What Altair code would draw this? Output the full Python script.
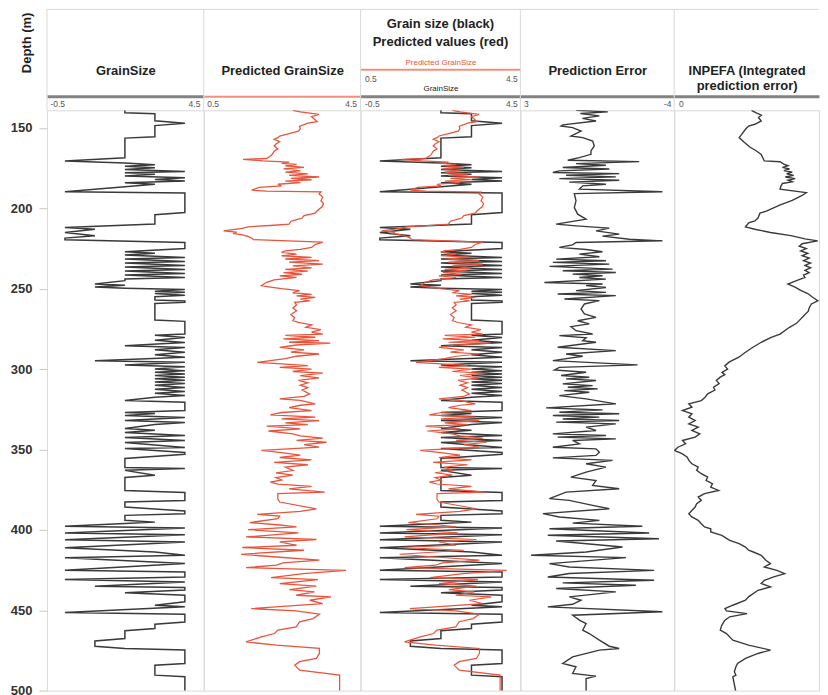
import altair as alt
import pandas as pd

FONT = "Liberation Sans"
DEPTH_TICKS = [150, 200, 250, 300, 350, 400, 450, 500]
GS_TICKS = [-0.5, 4.5]
PRED_TICKS = [0.5, 4.5]
ERR_TICKS = [3, -4]
INP_TICKS = [0]

# (depth m, grain size class)
GS_POINTS = [
    (139, 2), (140.5, 2), (141.2, 3), (145.5, 3), (147, 4), (148.5, 3), (155.5, 3), (156.3, 2), (168.5, 2),
    (170.5, 0), (171.8, 2), (172.8, 3), (173.8, 2), (174.8, 3), (175.8, 2), (177, 4), (177.8, 2), (178.8, 3),
    (179.8, 2), (181, 4), (182, 3), (183, 4), (184, 2), (185, 3), (186.5, 2), (189.7, 0), (190.5, 4),
    (202.6, 4), (204, 3), (209.8, 3), (211.9, 0), (213, 1), (215, 0), (217, 1), (218.5, 0), (219.5, 0),
    (221.2, 4), (225, 4), (227, 2), (228, 3), (229, 2), (230.5, 4), (231.5, 2), (233, 4), (234, 2),
    (235.5, 4), (236.5, 2), (238, 4), (239, 2), (240.5, 4), (241.5, 2), (243, 4), (244, 2), (245, 2),
    (247, 1), (247.8, 2), (249, 1), (249.7, 2), (250.5, 4), (251.5, 3), (252.2, 4), (253, 3), (254, 4),
    (255, 3), (257, 3), (257.6, 4), (258.5, 4), (259.2, 3), (269.5, 3), (270.3, 4), (278.2, 4), (279, 3),
    (280.3, 4), (282, 3), (283.5, 4), (285.5, 2), (286.5, 4), (288, 3), (289.5, 4), (291, 3), (292.6, 4),
    (294.8, 1), (295.8, 4), (297.5, 2), (298.5, 4), (300, 3), (301, 4), (302, 3), (303, 4), (304, 3),
    (305, 4), (306, 3), (307, 4), (308, 3), (309, 4), (310, 3), (311.5, 4), (312.5, 3), (314, 4), (315, 3),
    (316.5, 4), (317.5, 3), (319.6, 2), (320.6, 4), (325.8, 4), (327, 2), (327.7, 3), (328.9, 2),
    (330.1, 4), (332, 2), (333.2, 4), (334.5, 3), (336.9, 2), (338.1, 3), (339.5, 2), (341.3, 4),
    (342.5, 2), (344.4, 4), (345.7, 2), (348.8, 4), (349.4, 2), (351.9, 4), (353, 4), (355.6, 2),
    (361.2, 2), (361.8, 4), (363, 2), (366.1, 3), (367.4, 2), (375.5, 2), (376.7, 4), (381.7, 4),
    (382.7, 2), (385.8, 2), (388.3, 4), (390, 4), (391, 2), (394.1, 2), (395.2, 3), (396, 2), (397.8, 0),
    (398.9, 4), (402, 0), (403, 4), (406.1, 0), (407.6, 4), (411.1, 0), (413.8, 3), (415.8, 4), (417.3, 0),
    (421, 4), (425.2, 0), (426.2, 4), (429.3, 4), (430.9, 0), (432.4, 4), (435.1, 1), (435.9, 4),
    (437.5, 4), (439.2, 2), (440.7, 4), (444.8, 4), (446.9, 3), (447.9, 4), (451.4, 0), (452.5, 4),
    (457.3, 4), (458.7, 3), (461.4, 3), (462.8, 2), (467.6, 2), (469.1, 1), (472.4, 1), (473.8, 2),
    (474.8, 4), (483.1, 4), (484.2, 3), (490.4, 3), (491.4, 4), (501, 4),
]

# (depth m, predicted grain size)
PRED_POINTS = [
    (139, 2.8), (140, 3.0), (141.5, 3.5), (143, 3.3), (145, 3.4), (146, 3.45), (147, 3.2), (149, 2.98),
    (150.5, 3.0), (152, 2.95), (153.5, 2.7), (155, 2.45), (156, 2.4), (157, 2.3), (158.5, 2.45), (160, 2.35),
    (161.2, 2.3), (163, 2.4), (164.5, 2.3), (166.4, 2.25), (167.5, 2.2), (169, 2.1), (169.5, 1.47),
    (170.5, 2.0), (171.2, 2.7), (172, 2.5), (172.6, 2.9), (173.5, 2.6), (174.5, 3.1), (175.5, 2.55),
    (176.7, 3.0), (177.5, 2.6), (178.5, 3.2), (179.5, 2.7), (180.5, 3.5), (181.3, 2.75), (182.2, 3.3),
    (183, 2.6), (184, 3.0), (185, 2.4), (186, 2.5), (187, 1.9), (188.7, 1.7), (189.3, 2.1), (189.8, 3.55),
    (191, 3.5), (193, 3.6), (195.3, 3.55), (197, 3.62), (199, 3.58), (201.5, 3.45), (203, 3.4),
    (204.5, 3.1), (206, 3.05), (206.7, 2.95), (208, 2.75), (209.8, 2.7), (210.5, 2.3), (211.5, 1.6),
    (212.5, 1.45), (213.5, 1.1), (214, 0.95), (214.8, 1.3), (215.5, 1.2), (216.5, 1.45), (217.5, 1.6),
    (218.5, 1.7), (219.5, 1.75), (221, 3.6), (222.5, 3.4), (224.3, 3.3), (225.5, 3.0), (226.5, 2.6),
    (227.4, 2.5), (228.5, 2.9), (229.5, 2.5), (230.5, 3.3), (231.5, 2.6), (232.5, 3.5), (233.5, 2.7),
    (234.7, 3.6), (235.8, 2.8), (237, 3.3), (238, 2.6), (239, 3.2), (240, 2.55), (241, 3.05), (242, 2.45),
    (243, 2.9), (244.5, 2.3), (246, 2.1), (248.1, 1.96), (249, 2.2), (250, 2.5), (251.2, 2.98),
    (252.5, 2.8), (253.5, 3.3), (254.5, 2.9), (255.4, 3.4), (256.5, 3.0), (257.5, 3.25), (258.5, 2.85),
    (260, 2.9), (262, 2.8), (263.7, 2.9), (266, 2.75), (268, 2.85), (269.9, 2.8), (271, 2.95),
    (272.5, 3.3), (274, 3.15), (275.5, 3.55), (277, 3.3), (278.2, 3.6), (279, 2.6), (280.2, 3.4),
    (281.2, 2.55), (282.3, 3.5), (283.3, 2.7), (283.9, 3.8), (285, 2.9), (286.5, 2.45), (288, 3.1),
    (289.5, 2.75), (290.6, 3.5), (292, 2.9), (293.5, 2.6), (295.8, 1.85), (296.8, 2.5), (297.8, 3.2),
    (298.9, 2.45), (300, 3.3), (301.5, 2.8), (302.5, 3.6), (304, 3.0), (305.5, 3.5), (307, 2.95),
    (308.5, 3.2), (310, 3.0), (311.5, 3.2), (313, 3.05), (315.4, 3.25), (317, 3.1), (318.5, 2.45),
    (319.5, 3.0), (321.6, 3.4), (322.5, 3.0), (324, 2.7), (325.8, 3.3), (327, 2.5), (328.5, 2.2),
    (329.9, 3.4), (331, 2.5), (332, 3.5), (333.5, 2.6), (334.5, 3.2), (335.5, 2.1), (337.2, 3.0),
    (338.5, 2.15), (340.3, 2.8), (341.5, 3.0), (343, 3.6), (344.4, 2.9), (345.5, 3.7), (347, 3.1),
    (348.6, 3.5), (350.6, 1.96), (352, 2.5), (353.5, 3.0), (355, 2.45), (356.5, 3.3), (358, 2.3),
    (359.5, 3.2), (361, 2.6), (363.1, 2.8), (364.5, 2.35), (366, 2.8), (367.5, 2.35), (369, 2.5),
    (370.3, 2.2), (371.5, 2.4), (373, 3.3), (374.5, 2.7), (376.5, 3.65), (377.5, 2.4), (381, 2.4),
    (382.7, 2.45), (386.9, 3.43), (388.5, 3.0), (390.4, 1.85), (391.5, 2.45), (393.1, 2.4), (395.5, 1.65),
    (397, 2.45), (398.2, 2.9), (399.9, 1.6), (401.9, 2.95), (404.4, 1.55), (406, 3.43), (407.5, 2.45),
    (409.6, 2.9), (411, 1.45), (412.7, 3.1), (415.2, 1.42), (416.9, 2.36), (418.9, 3.51), (420.6, 2.54),
    (422, 2.36), (423.5, 1.55), (425.2, 4.22), (427.2, 3.08), (429.7, 2.22), (431, 3.47), (433.4, 2.45),
    (435, 3.43), (437.2, 2.71), (438.6, 3.38), (440.7, 2.89), (441.7, 3.82), (443.8, 3.25), (445.9, 3.6),
    (449, 1.69), (450.4, 2.89), (452.5, 3.51), (455.2, 3.34), (457.2, 2.98), (460.4, 2.89), (462.4, 2.4),
    (464.5, 2.31), (466.6, 1.96), (469.7, 1.55), (471.7, 2.36), (473.8, 3.51), (476.9, 3.51), (480, 3.43),
    (482, 2.98), (484.2, 2.85), (487.3, 2.98), (490.4, 4.05), (501, 4.05),
]

# (depth m, prediction error)
ERR_POINTS = [
    (139, 0.5), (140, -1.0), (141, 0.3), (142.5, -0.6), (144, 0.2), (145.65, -0.44), (148.1, 1.14),
    (148.8, 1.22), (149.8, 0.67), (151.9, 0.27), (155, 0.75), (156, 0.19), (158.1, -0.28), (161.2, -0.36),
    (164.3, -0.2), (166.4, -0.2), (168.4, 0.35), (170.1, 0.9), (170.9, -2.49), (172.2, 0.51),
    (173.2, -0.91), (174.6, 1.14), (175.5, -1.07), (176.7, 1.3), (177.7, 1.61), (178.4, -1.54),
    (179.4, 0.98), (180.4, -1.38), (181.5, 1.3), (182.5, -1.54), (183.7, 0.83), (185, -0.91), (186, 0.19),
    (188.1, 0.35), (189.7, -3.59), (190.8, 0.59), (195.3, 0.51), (199.5, 0.59), (203.6, 0.43),
    (206.7, 0.03), (209.8, 1.45), (210.9, 0.51), (212.3, -1.07), (214, -0.44), (216, -1.54),
    (217.3, -0.75), (219.2, -2.02), (220.2, -3.59), (221.2, 0.51), (222.7, 0.67), (224.3, 1.3),
    (225.6, 0.03), (227, -0.75), (228.5, 0.35), (230.1, -0.6), (231.6, 1.45), (232.6, -0.91), (233.6, 1.61),
    (234.7, -1.07), (236.1, 1.77), (237.8, -1.23), (238.8, 1.14), (239.9, -1.38), (240.9, 0.67),
    (241.9, -0.75), (243, 0.35), (244, -0.91), (246.1, 2.01), (247.1, -0.75), (248.1, 0.03), (249.2, -0.91),
    (251.2, 0.51), (252.3, -0.91), (253.3, 1.38), (254.3, -1.38), (256.4, 1.06), (257.4, -0.6),
    (259.5, 0.11), (262.6, 0.27), (265.7, 0.11), (267.8, -0.44), (269.9, 0.43), (271.9, -0.12),
    (273.6, 0.75), (276.1, 0.51), (278.2, -0.28), (279.2, 1.3), (280.6, 0.03), (282.3, 0.19),
    (283.3, -0.44), (286.4, 1.38), (288.5, -1.38), (290.6, 0.98), (292, 0.19), (294.7, 1.61),
    (297.4, -2.41), (298.9, 1.3), (300.5, 1.53), (302, 0.03), (304, 1.22), (305.1, -0.12), (306.1, 0.98),
    (307.1, -0.44), (309.2, 1.14), (310.3, -0.28), (311.3, 0.9), (312.3, -0.52), (313.4, 1.06),
    (314.4, -0.12), (316.5, 1.3), (318.5, 0.03), (321.6, -1.38), (324.1, 1.93), (325.4, -0.75),
    (326.8, 1.3), (327.8, -1.54), (328.9, 1.61), (329.9, -0.6), (331, 1.14), (332, -1.54), (333, 1.45),
    (334.1, -1.38), (336.1, 0.03), (338.2, -0.44), (340.3, 1.61), (341.3, -0.91), (342.3, 1.38),
    (343.4, -1.38), (344.4, 0.67), (346.5, 0.35), (348.6, 1.61), (349.6, -0.44), (351.7, -0.6),
    (353.7, -0.44), (355.2, 1.61), (356.8, -1.23), (358.9, 0.03), (361, -0.91), (364.1, 0.03),
    (367.2, 0.75), (369.3, -0.44), (372.4, -0.28), (374.4, -1.54), (376.5, 0.98), (380.6, 1.77),
    (381.7, 0.83), (384.8, -0.28), (386.9, -1.07), (389.9, 2.08), (392, 1.3), (394.1, -0.6), (395.8, 0.67),
    (397.8, -2.64), (399.3, 1.77), (402, -2.96), (403.4, 1.85), (405.5, -3.43), (406.9, 1.45),
    (410.7, -1.7), (413.8, 0.03), (415.8, 2.64), (417.3, -1.86), (421, 1.77), (423.1, 0.83), (425.2, -3.2),
    (427.2, 0.83), (429.3, 1.85), (431.4, -3.2), (433, 1.14), (434.5, -2.33), (436.5, 1.45), (438.6, -1.38),
    (441.7, 0.83), (443.8, 0.27), (446.3, 0.67), (447.9, 1.85), (451, -3.59), (453.1, 0.67), (456.2, 0.35),
    (458.3, 0.03), (462.4, 0.19), (464.5, -0.12), (468.6, -0.6), (472.4, -1.07), (473.8, -1.54),
    (474.8, -0.6), (479, 0.67), (483.1, 1.14), (485.2, 0.51), (489.3, 0.67), (491, -0.44), (492.5, 0.03),
    (501, 0.03),
]

# (depth m, INPEFA, arbitrary units: 0 at the track's labelled origin)
INPEFA_POINTS = [
    (139, 5.2), (140.5, 5.5), (142, 5.9), (143.5, 5.7), (145.65, 5.89), (147.7, 5.44), (148.8, 4.99),
    (150.8, 4.77), (154, 4.5), (156, 4.32), (159, 4.7), (162, 5.1), (164, 5.5), (166.4, 5.89), (168.5, 6.0),
    (170.5, 6.11), (171, 7.23), (172.5, 7.5), (173.5, 7.8), (174.5, 7.4), (175.5, 7.9), (176.5, 7.5),
    (177.5, 8.1), (178.5, 7.7), (179.5, 8.2), (180.5, 7.6), (181.5, 8.3), (182.5, 7.8), (183.5, 8.1),
    (184.5, 7.4), (186, 7.3), (188.1, 7.23), (190.2, 9.1), (192, 8.8), (195, 8.1), (198, 7.2), (201.6, 6.3),
    (203, 5.8), (206, 5.66), (207.8, 5.44), (209, 5.0), (211.5, 4.77), (213, 5.44), (215, 6.55), (217, 8.0),
    (219, 9.0), (220.2, 9.91), (222, 8.8), (223.5, 8.6), (225, 9.1), (226.5, 8.7), (228, 9.2), (229.5, 8.8),
    (231, 9.3), (232.5, 8.9), (234, 9.4), (235.5, 9.0), (237, 9.4), (238.5, 9.0), (240, 9.3), (241.5, 8.9),
    (243, 9.0), (245, 8.4), (247.1, 7.79), (249, 8.3), (251, 8.7), (253, 9.2), (255, 9.5), (257.5, 9.91),
    (259.5, 9.46), (262, 9.3), (264, 9.24), (267, 8.9), (270, 8.57), (271.5, 8.4), (274, 7.9),
    (278.2, 7.23), (280.2, 6.6), (283.3, 5.89), (286.4, 5.3), (289.5, 4.77), (292.6, 4.3), (295.7, 3.6),
    (298, 3.3), (300, 3.5), (302, 3.1), (303.5, 3.3), (305, 2.98), (307, 2.7), (309, 2.9), (311.3, 2.5),
    (313, 2.6), (315.4, 2.08), (317.5, 1.9), (319.6, 1.63), (321.6, 0.74), (323.7, 0.96), (325.8, 0.29),
    (327.8, 0.96), (329.9, 0.74), (332, 1.19), (334.1, 0.74), (336.1, 1.41), (338.2, 0.96), (340.3, 1.52),
    (342.3, 1.19), (344.4, 0.29), (346.5, 0.51), (348.6, -0.04), (350.6, -0.27), (352.7, 0.29),
    (354.8, 0.63), (356.8, 0.74), (358.9, 0.96), (361, 1.41), (363, 1.3), (365.1, 1.63), (367.2, 2.08),
    (369.3, 1.97), (371.3, 2.42), (373.4, 2.3), (375.5, 2.86), (377.5, 1.86), (379.6, 1.41), (381.7, 1.63),
    (383.8, 1.3), (385.8, 1.19), (390, 0.74), (392, 0.96), (394.1, 1.41), (396.2, 1.63), (398.2, 1.86),
    (399.3, 2.3), (401.3, 2.3), (403.4, 3.09), (406.5, 3.65), (408.6, 4.32), (410.7, 4.77), (412.7, 4.99),
    (413.8, 5.33), (415.8, 5.89), (418.9, 6.22), (421, 6.55), (423.1, 6.11), (425.2, 7.0), (427.2, 7.56),
    (429.3, 6.78), (431.4, 6.11), (433.4, 5.89), (435.5, 6.55), (437.6, 5.66), (441.7, 4.99),
    (443.8, 4.77), (446.9, 3.87), (449, 3.31), (450.4, 3.42), (452.1, 4.88), (454.1, 3.65), (456.2, 3.31),
    (459.3, 3.09), (462.4, 2.98), (464.5, 3.42), (468.6, 3.87), (471.7, 4.99), (474.8, 6.55),
    (476.9, 5.66), (480, 4.77), (483.1, 4.21), (485.2, 4.09), (488.3, 3.98), (490.4, 4.09), (491.4, 3.87),
    (501, 4.09),
]

gs = pd.DataFrame(GS_POINTS, columns=["depth", "value"])
pred = pd.DataFrame(PRED_POINTS, columns=["depth", "value"])
err = pd.DataFrame(ERR_POINTS, columns=["depth", "value"])
inp = pd.DataFrame(INPEFA_POINTS, columns=["depth", "value"])

H = 581
HEAD = 101
W1, W2, W3, W4, W5 = 157, 157, 160, 154, 145
GRID = "#d9d9d9"
INK = "#3a3a3a"
RED = "#e8543c"
RED_AXIS = "#f0907e"

depth_scale = alt.Scale(domain=[139, 500], reverse=True, nice=False, zero=False)

depth_axis = alt.Axis(
    values=DEPTH_TICKS, grid=False, domain=False, tickSize=8, tickColor="#c8c8c8",
    labelPadding=7, labelFont=FONT, labelFontSize=13, labelFontWeight="bold", labelColor="#333",
    labelAlign="right",
    title="Depth (m)", titleFont=FONT, titleFontSize=13, titleFontWeight="bold", titleColor="#222",
    titleAngle=270, titleX=-20, titleY=-68, titleAlign="center", titleBaseline="middle",
)


def top_axis(values, title, w, offset=14, title_y=-19, color="#828282", width=3, title_size=13,
             title_color="#222", title_weight="bold", label_pad=-3):
    return alt.Axis(
        orient="top", values=values, labelExpr="'' + datum.value", offset=offset,
        domainColor=color, domainWidth=width, ticks=False, tickSize=0, grid=False,
        labelFlush=9, labelPadding=label_pad, labelBaseline="top", labelFont=FONT, labelFontSize=8.5,
        labelColor="#555", labelAngle=0,
        title=title, titleFont=FONT, titleFontSize=title_size, titleFontWeight=title_weight,
        titleColor=title_color, titleX=w / 2, titleY=title_y, titleAlign="center",
        titleBaseline="bottom", titleAngle=0,
    )


def frame(w):
    base = alt.Chart(pd.DataFrame({"k": [0]}))
    v = base.mark_rule(color=GRID, strokeWidth=1).encode(
        x=alt.value(0), y=alt.value(-HEAD), y2=alt.value(0))
    h = base.mark_rule(color=GRID, strokeWidth=1).encode(
        x=alt.value(0), x2=alt.value(w), y=alt.value(-HEAD))
    return [v, h]


def curve(df, color, width, domain, axis, reverse=False, yaxis=None):
    return alt.Chart(df).mark_line(color=color, strokeWidth=width, clip=True).encode(
        x=alt.X("value:Q", scale=alt.Scale(domain=domain, nice=False, zero=False, reverse=reverse),
                axis=axis),
        y=alt.Y("depth:Q", scale=depth_scale, axis=yaxis),
        order="depth:Q",
    )


p1 = alt.layer(
    *frame(W1),
    curve(gs, INK, 1.5, [-0.6, 4.63], top_axis(GS_TICKS, "GrainSize", W1), yaxis=depth_axis),
).properties(width=W1, height=H)

p2 = alt.layer(
    *frame(W2),
    curve(pred, RED, 1.3, [0.42, 4.61],
          top_axis(PRED_TICKS, "Predicted GrainSize", W2, color=RED_AXIS, width=2)),
).properties(width=W2, height=H)

p3 = alt.layer(
    *frame(W3),
    curve(gs, INK, 1.5, [-0.63, 4.6],
          top_axis(GS_TICKS, "GrainSize", W3, title_y=-4, title_size=8, title_weight="normal")),
    curve(pred, RED, 1.2, [0.4, 4.58],
          top_axis(PRED_TICKS, "Predicted GrainSize", W3, offset=41, color=RED_AXIS, width=2,
                   title_y=-3, title_size=8, title_weight="normal", title_color=RED, label_pad=-5)),
).resolve_scale(x="independent").properties(
    width=W3, height=H,
    title=alt.TitleParams(["Grain size (black)", "Predicted values (red)"], font=FONT, fontSize=13,
                          fontWeight="bold", color="#222", anchor="middle", offset=-53,
                          lineHeight=18, baseline="bottom"),
)

p4 = alt.layer(
    *frame(W4),
    curve(err, INK, 1.4, [-4.15, 3.15], top_axis(ERR_TICKS, "Prediction Error", W4), reverse=True),
).properties(width=W4, height=H)

p5 = alt.layer(
    *frame(W5),
    curve(inp, INK, 1.4, [-0.3, 10.0],
          top_axis(INP_TICKS, ["INPEFA (Integrated", "prediction error)"], W5)),
).properties(width=W5, height=H)

chart = alt.hconcat(p1, p2, p3, p4, p5, spacing=0, bounds="flush").properties(
    padding={"left": 1, "top": 0, "right": 0, "bottom": 0}
).configure_view(stroke=GRID, strokeWidth=1)

chart.save("out.html", embed_options={"renderer": "svg", "actions": False})
